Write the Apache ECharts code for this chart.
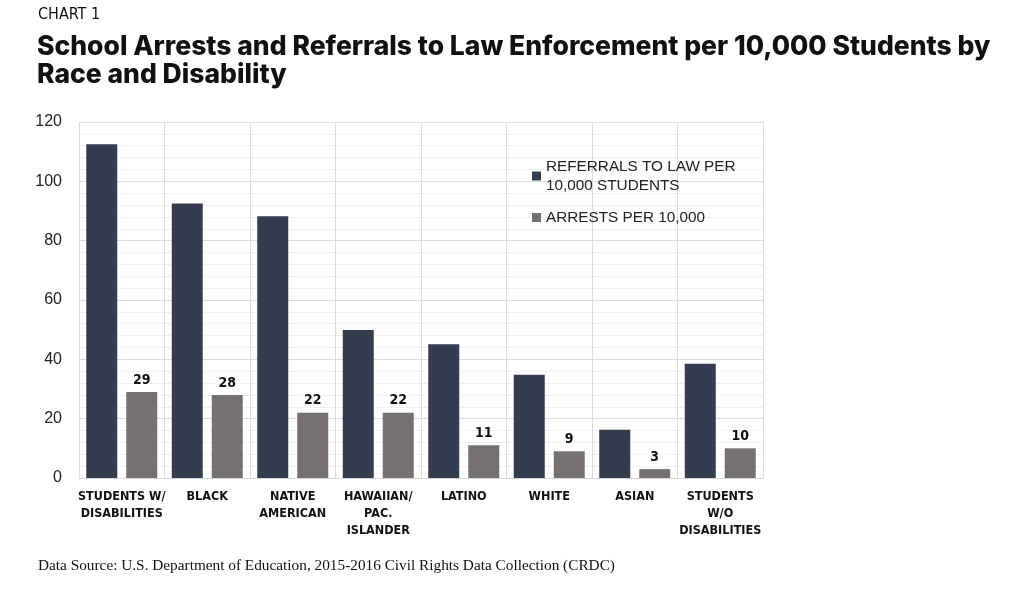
<!DOCTYPE html>
<html><head><meta charset="utf-8">
<script src="https://cdn.jsdelivr.net/npm/echarts@6/dist/echarts.min.js"></script>
<style>html,body{margin:0;padding:0;background:#fff}#c{width:1024px;height:591px}</style>
</head><body><div id="c"></div>
<script>
const categories = ['STUDENTS W/\nDISABILITIES','BLACK','NATIVE\nAMERICAN','HAWAIIAN/\nPAC.\nISLANDER','LATINO','WHITE','ASIAN','STUDENTS\nW/O\nDISABILITIES'];
const referrals = [112.5, 92.5, 88.2, 49.9, 45.1, 34.8, 16.3, 38.5];
const arrests = [29, 28, 22, 22, 11, 9, 3, 10];
const yTicks = [0, 20, 40, 60, 80, 100, 120];

const chart = echarts.init(document.getElementById('c'), null, {renderer:'canvas'});
chart.setOption({
  animation:false,
  backgroundColor:'#fff',
  title:[
    {text:'CHART 1', left:33, top:2, textStyle:{fontFamily:'DejaVu Sans Condensed', fontWeight:'normal', fontSize:16, color:'#111'}},
    {text:'School Arrests and Referrals to Law Enforcement per 10,000 Students by\nRace and Disability', left:32, top:28,
     textStyle:{fontFamily:'Inter', fontWeight:800, fontSize:26.5, lineHeight:28, color:'#111'}},
    {text:'Data Source: U.S. Department of Education, 2015-2016 Civil Rights Data Collection (CRDC)', left:33, top:553,
     textStyle:{fontFamily:'Liberation Serif', fontWeight:'normal', fontSize:15.3, color:'#111'}}
  ],
  legend:{
    orient:'vertical', left:527, top:152, itemWidth:9, itemHeight:9, itemGap:13, icon:'rect',
    textStyle:{fontFamily:'Liberation Sans', fontSize:15.3, color:'#222', lineHeight:19},
    data:[{name:'REFERRALS TO LAW PER\n10,000 STUDENTS'},{name:'ARRESTS PER 10,000'}]
  },
  grid:{left:79, right:261, top:122, bottom:113, containLabel:false},
  xAxis:{
    type:'category', data:categories,
    axisLine:{show:true, lineStyle:{color:'#d9d9d9', width:1}},
    axisTick:{show:false},
    splitLine:{show:true, lineStyle:{color:'#dcdcdc', width:1}},
    axisLabel:{interval:0, margin:10, fontFamily:'DejaVu Sans Condensed', fontWeight:'bold', fontSize:12.5, lineHeight:17, color:'#111'}
  },
  yAxis:{
    type:'value', min:0, max:120, interval:20,
    axisLine:{show:false}, axisTick:{show:false},
    axisLabel:{margin:17, fontFamily:'Liberation Sans', fontSize:16, color:'#222',
      formatter:v=>yTicks.includes(v)?String(v):''},
    splitLine:{show:true, lineStyle:{color:'#dcdcdc', width:1}},
    minorTick:{show:false, splitNumber:5},
    minorSplitLine:{show:true, lineStyle:{color:'#f0f0f0', width:1}}
  },
  series:[
    {name:'REFERRALS TO LAW PER\n10,000 STUDENTS', type:'bar', data:referrals, barWidth:31, barGap:'29%',
     itemStyle:{color:'#343d4f'}},
    {name:'ARRESTS PER 10,000', type:'bar', data:arrests, barWidth:31,
     itemStyle:{color:'#767070'},
     label:{show:true, position:'top', distance:5, fontFamily:'DejaVu Sans Condensed', fontWeight:'bold', fontSize:14, color:'#111'}}
  ]
});
</script></body></html>
